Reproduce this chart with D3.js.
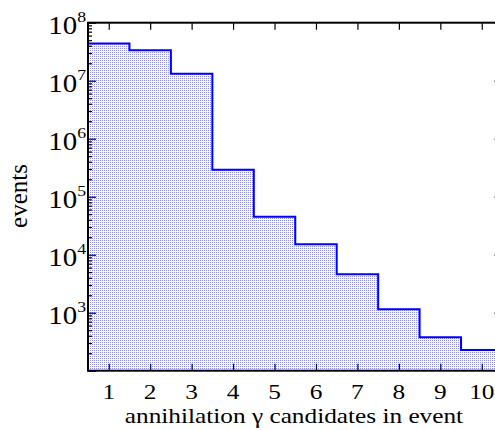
<!DOCTYPE html>
<html><head><meta charset="utf-8">
<script src="https://cdn.jsdelivr.net/npm/d3@7"></script>
<style>
body{margin:0;background:#fff;overflow:hidden}
svg text{font-family:"Liberation Serif","Times New Roman",Times,serif;fill:#000}
</style>
</head><body>
<script>
// ---- data ----
const binCenters = [1, 2, 3, 4, 5, 6, 7, 8, 9, 10];
const counts = [4.4e7, 3.34e7, 1.32e7, 2.92e5, 4.52e4, 1.51e4, 4.59e3, 1.15e3, 377, 227];
const xTicks = [1, 2, 3, 4, 5, 6, 7, 8, 9, 10];
const yDecades = [1e2, 1e3, 1e4, 1e5, 1e6, 1e7, 1e8];
const yLabelExps = [3, 4, 5, 6, 7, 8];
const xTitle = "annihilation \u03B3 candidates in event";
const yTitle = "events";

// ---- layout ----
const W = 495, H = 430;
const L = 88, T = 22.7, R = 502.5, B = 370.7;
const SX = 1.15; // horizontal stretch of the reference glyphs

const svg = d3.select("body").append("svg").attr("width", W).attr("height", H);
const x = d3.scaleLinear().domain([0.5, 10.5]).range([L, R]);
const y = d3.scaleLog().domain([1e2, 1e8]).range([B, T]);

// stipple pattern
const defs = svg.append("defs");
const pat = defs.append("pattern").attr("id", "dots").attr("patternUnits", "userSpaceOnUse")
  .attr("width", 2).attr("height", 2);
pat.append("rect").attr("width", 2).attr("height", 2).attr("fill", "#fff");
pat.append("rect").attr("width", 1).attr("height", 1).attr("fill", "#9090f0");

// histogram points
const pts = [];
binCenters.forEach((c, i) => {
  pts.push([c - 0.5, counts[i]]);
  pts.push([c + 0.5, counts[i]]);
});

svg.append("path").datum(pts)
  .attr("fill", "url(#dots)")
  .attr("d", d3.area().x(d => x(d[0])).y0(B).y1(d => y(d[1])));

svg.append("path").datum(pts)
  .attr("fill", "none").attr("stroke", "#0000ff").attr("stroke-width", 2)
  .attr("d", d3.line().x(d => x(d[0])).y(d => y(d[1])));

// minor log ticks
const minors = [];
yDecades.slice(0, -1).forEach(d => { for (let m = 2; m <= 9; m++) minors.push(d * m); });

function styleAxis(g) {
  g.select(".domain").remove();
  g.selectAll("line").attr("stroke", "#000").attr("stroke-width", 1.2);
  g.selectAll("text").remove();
}

// left
svg.append("g").attr("transform", `translate(${L},0)`)
  .call(d3.axisLeft(y).tickValues(yDecades).tickSize(-8)).call(styleAxis);
svg.append("g").attr("transform", `translate(${L},0)`)
  .call(d3.axisLeft(y).tickValues(minors).tickSize(-4)).call(styleAxis);
// right
svg.append("g").attr("transform", `translate(${R},0)`)
  .call(d3.axisRight(y).tickValues(yDecades).tickSize(-8)).call(styleAxis);
svg.append("g").attr("transform", `translate(${R},0)`)
  .call(d3.axisRight(y).tickValues(minors).tickSize(-4)).call(styleAxis);
// bottom / top
svg.append("g").attr("transform", `translate(0,${B})`)
  .call(d3.axisBottom(x).tickValues(xTicks).tickSize(-7)).call(styleAxis);
svg.append("g").attr("transform", `translate(0,${T})`)
  .call(d3.axisTop(x).tickValues(xTicks).tickSize(-7)).call(styleAxis);

// frame
svg.append("rect").attr("x", L).attr("y", T).attr("width", R - L).attr("height", B - T)
  .attr("fill", "none").attr("stroke", "#000").attr("stroke-width", 2);

// x tick labels
svg.append("g").selectAll("text").data(xTicks).join("text")
  .attr("transform", d => `translate(${x(d)},${B + 28}) scale(${SX},1)`)
  .attr("text-anchor", "middle")
  .attr("font-size", 22)
  .text(d => d);

// y tick labels
const yl = svg.append("g").selectAll("text").data(yLabelExps).join("text")
  .attr("transform", d => `translate(86,${y(Math.pow(10, d)) + 11}) scale(1.18,1)`)
  .attr("text-anchor", "end")
  .attr("font-size", 24.5);
yl.append("tspan").text("10");
yl.append("tspan").attr("font-size", 15).attr("dy", -11.5).text(d => d);

// titles
svg.append("text").attr("transform", `translate(294,423) scale(${SX},1)`)
  .attr("text-anchor", "middle")
  .attr("font-size", 22).text(xTitle);
svg.append("text").attr("transform", `translate(27,196) rotate(-90)`)
  .attr("text-anchor", "middle")
  .attr("font-size", 25).text(yTitle);
</script>
</body></html>
